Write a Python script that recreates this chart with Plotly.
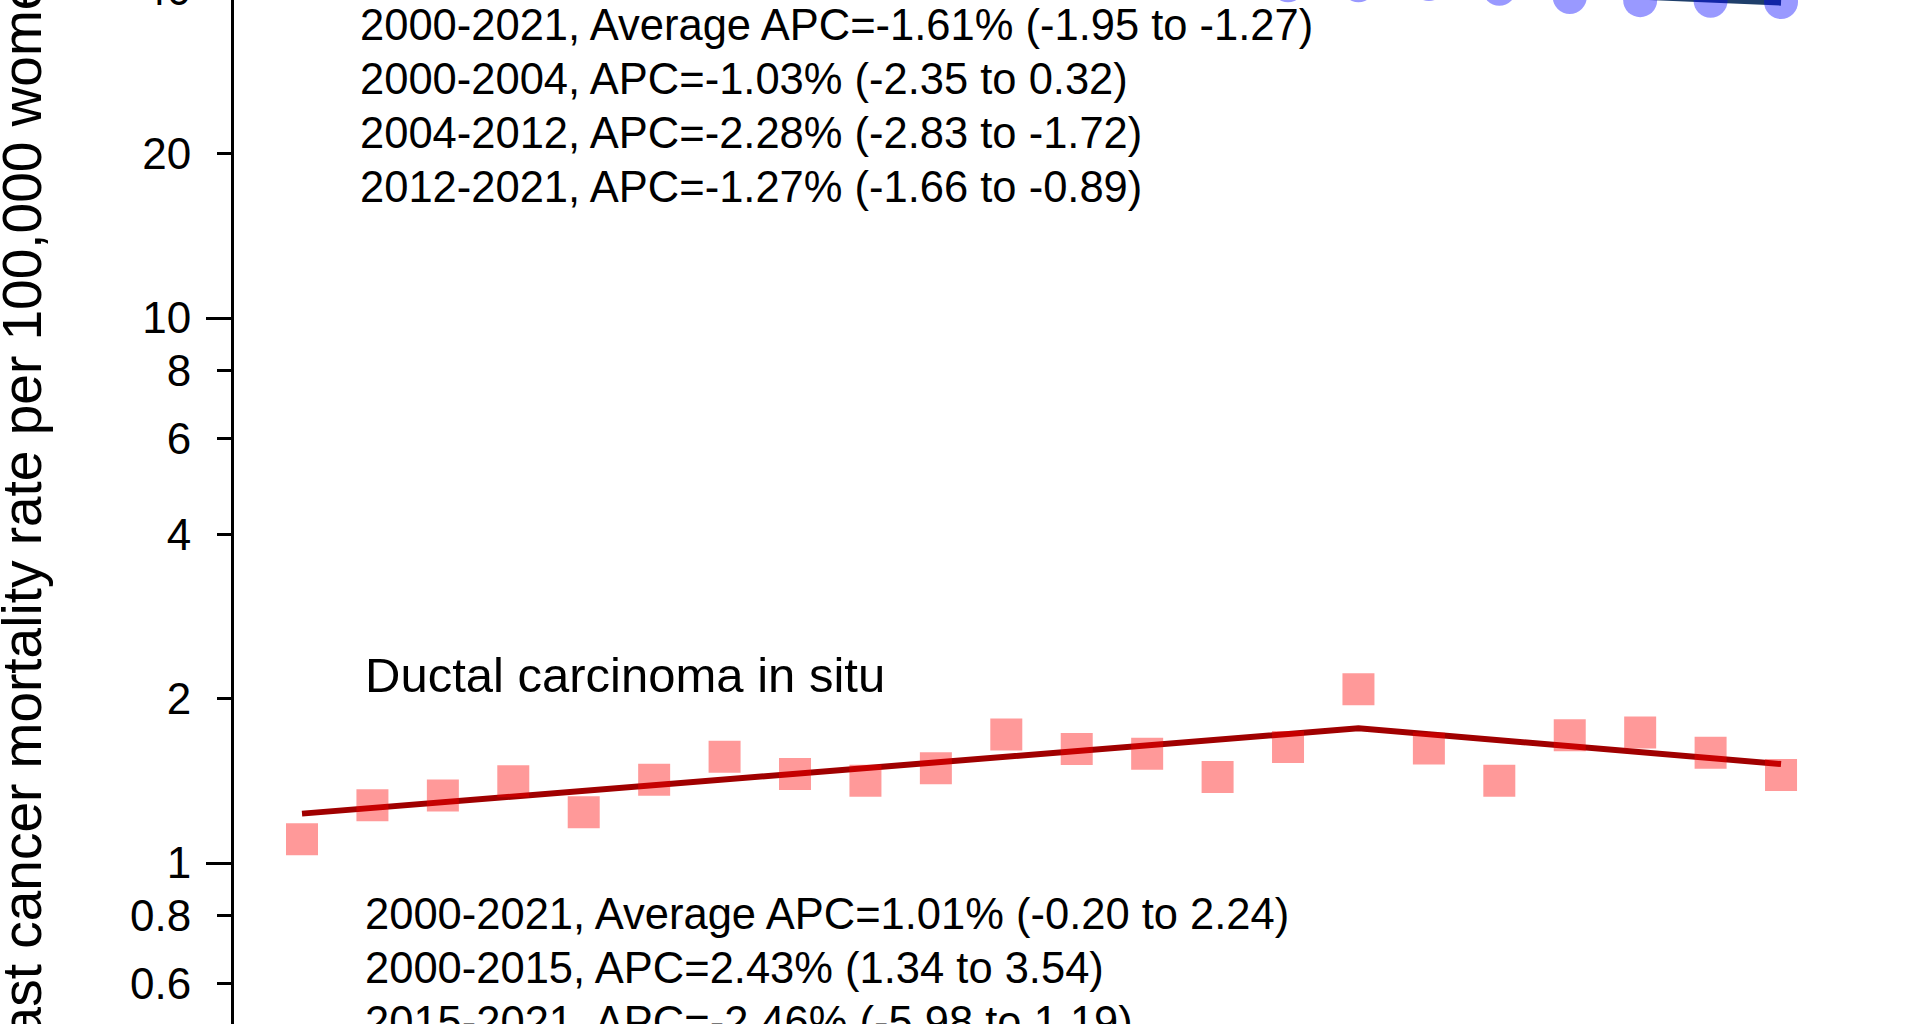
import plotly.graph_objects as go

# ---------------- data ----------------
years = list(range(2000, 2022))

# Ductal carcinoma in situ: observed rates (per 100,000 women)
dcis_rate = [1.105, 1.277, 1.330, 1.413, 1.239, 1.422, 1.566, 1.457, 1.415, 1.492,
             1.721, 1.618, 1.586, 1.438, 1.633, 2.083, 1.623, 1.415, 1.716, 1.736,
             1.593, 1.451]
# joinpoint fitted trend
dcis_joint_years = [2000, 2015, 2021]
dcis_joint_vals = [1.232, 1.767, 1.519]

# upper series (mostly above the visible window)
inv_rate = [53.8, 52.4, 52.6, 51.2, 51.5, 49.6, 49.2, 47.3, 46.9, 45.2,
            44.9, 43.1, 42.8, 41.6, 40.8, 40.8, 41.0, 40.2, 38.8, 38.3,
            38.2, 38.0]
inv_joint_years = [2000, 2004, 2012, 2021]
inv_joint_vals = [53.3, 51.1, 42.5, 37.9]

# tick labels
minor_tickvals = [0.6, 0.8, 1, 2, 4, 6, 8, 10, 20, 40]
minor_ticktext = ["0.6", "0.8", "1", "2", "4", "6", "8", "10", "20", "40"]
major_tickvals = [1, 10]

upper_lines = [
    "2000-2021, Average APC=-1.61% (-1.95 to -1.27)",
    "2000-2004, APC=-1.03% (-2.35 to 0.32)",
    "2004-2012, APC=-2.28% (-2.83 to -1.72)",
    "2012-2021, APC=-1.27% (-1.66 to -0.89)",
]
dcis_title = "Ductal carcinoma in situ"
lower_lines = [
    "2000-2021, Average APC=1.01% (-0.20 to 2.24)",
    "2000-2015, APC=2.43% (1.34 to 3.54)",
    "2015-2021, APC=-2.46% (-5.98 to 1.19)",
]
y_title = "Breast cancer mortality rate per 100,000 women"

# ---------------- layout geometry ----------------
VW, VH = 1920, 1024     # visible window
TOP = 60                # part of the figure scrolled above the window
W, H = VW, VH + TOP
AXIS_X = 234            # page x of the y-axis line
ML = AXIS_X
PW = W - ML
FONT = "Liberation Sans, Arial, sans-serif"

# page-pixel scale of the axes
Y_ONE = 863             # page y of value 1
DECADE = 545            # px per decade
X2000, XSTEP = 302, 70.43


def px2paper_x(px):
    return (px - ML) / PW


def px2paper_y(py):
    return 1 - (py + TOP) / H


fig = go.Figure()

# upper series
fig.add_trace(go.Scatter(x=inv_joint_years, y=inv_joint_vals, mode="lines",
                         line=dict(color="#1F3F6B", width=6),
                         cliponaxis=False, showlegend=False, hoverinfo="skip"))
fig.add_trace(go.Scatter(x=years, y=inv_rate, mode="markers",
                         marker=dict(symbol="circle", size=34,
                                     color="rgba(0,0,255,0.4)", line=dict(width=0)),
                         cliponaxis=False, showlegend=False))

# DCIS
fig.add_trace(go.Scatter(x=dcis_joint_years, y=dcis_joint_vals, mode="lines",
                         line=dict(color="#A00000", width=6),
                         cliponaxis=False, showlegend=False, hoverinfo="skip"))
fig.add_trace(go.Scatter(x=years, y=dcis_rate, mode="markers",
                         marker=dict(symbol="square", size=32,
                                     color="rgba(255,0,0,0.4)", line=dict(width=0)),
                         cliponaxis=False, showlegend=False))

annotations = []
upper_y = [24.5, 78.5, 132.5, 186.5]
for txt, py in zip(upper_lines, upper_y):
    annotations.append(dict(text=txt, x=px2paper_x(358), y=px2paper_y(py),
                            xref="paper", yref="paper", xanchor="left", yanchor="middle",
                            showarrow=False, font=dict(family=FONT, size=43.5, color="black")))
annotations.append(dict(text=dcis_title, x=px2paper_x(363), y=px2paper_y(675),
                        xref="paper", yref="paper", xanchor="left", yanchor="middle",
                        showarrow=False, font=dict(family=FONT, size=49, color="black")))
lower_y = [914, 968, 1022]
for txt, py in zip(lower_lines, lower_y):
    annotations.append(dict(text=txt, x=px2paper_x(363), y=px2paper_y(py),
                            xref="paper", yref="paper", xanchor="left", yanchor="middle",
                            showarrow=False, font=dict(family=FONT, size=43.5, color="black")))
annotations.append(dict(text=y_title, x=px2paper_x(22), y=px2paper_y(536),
                        xref="paper", yref="paper", xanchor="center", yanchor="middle",
                        textangle=-90, showarrow=False,
                        font=dict(family=FONT, size=55, color="black")))

yhi = (Y_ONE + TOP) / DECADE
ylo = (Y_ONE - VH) / DECADE
xlo = 2000 - (X2000 - AXIS_X) / XSTEP
xhi = 2000 + (W - X2000) / XSTEP

fig.update_layout(
    width=W, height=H,
    margin=dict(l=ML, r=0, t=0, b=0, pad=0),
    paper_bgcolor="white", plot_bgcolor="white",
    font=dict(family=FONT, color="black"),
    annotations=annotations,
    xaxis=dict(range=[xlo, xhi], showline=False, showticklabels=False,
               showgrid=False, zeroline=False, ticks=""),
    yaxis=dict(type="log", range=[ylo, yhi], showline=True, linecolor="black",
               linewidth=3, ticks="outside", ticklen=14, tickwidth=3,
               tickcolor="black", tickvals=minor_tickvals, ticktext=minor_ticktext,
               tickfont=dict(family=FONT, size=44, color="black"),
               ticklabelstandoff=17, showgrid=False, zeroline=False),
    yaxis2=dict(type="log", range=[ylo, yhi], overlaying="y", side="left",
                anchor="x", showline=False, ticks="outside", ticklen=27,
                tickwidth=3, tickcolor="black", tickvals=major_tickvals,
                showticklabels=False, showgrid=False, zeroline=False),
)

# invisible trace that activates the overlay axis carrying the long ticks
fig.add_trace(go.Scatter(x=[years[0]], y=[dcis_rate[0]], yaxis="y2", mode="markers",
                         marker=dict(opacity=0), showlegend=False, hoverinfo="skip"))

# the reference is a crop: the top of the figure sits just above the window
page_js = ("document.body.style.margin='0';"
           "var gd=document.getElementById('{plot_id}');"
           "gd.style.marginTop='-%dpx';" % TOP)

fig.write_html("out.html", post_script=page_js)
